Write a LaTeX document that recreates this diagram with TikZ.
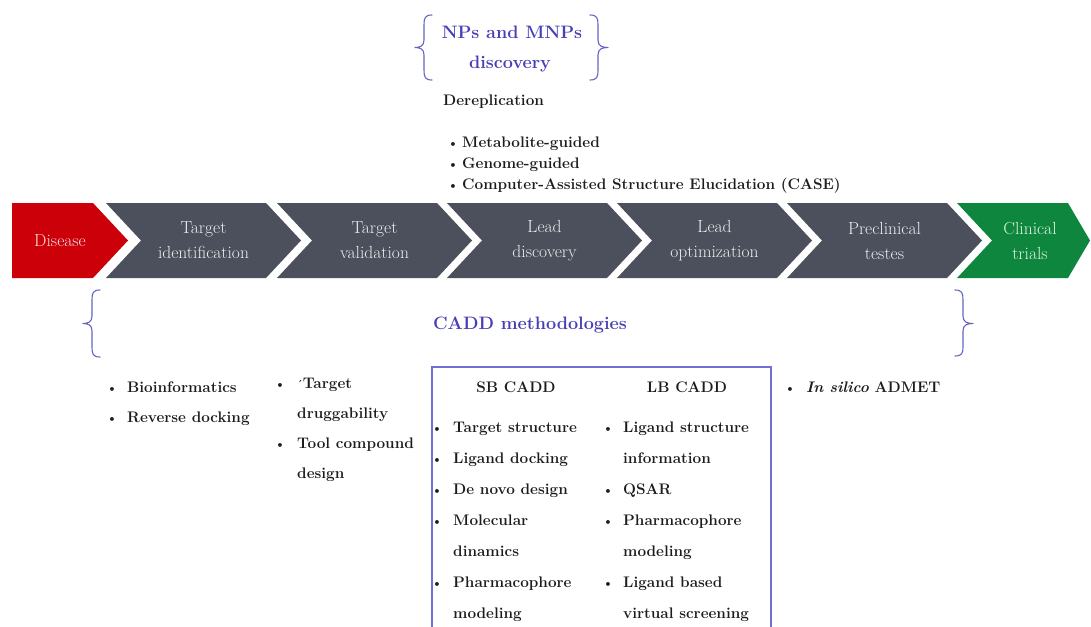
\documentclass[tikz,border=0pt]{standalone}
\usepackage{fontspec}
\definecolor{cred}{RGB}{204,0,8}
\definecolor{cgray}{RGB}{76,80,92}
\definecolor{cgreen}{RGB}{14,134,62}
\definecolor{cblue}{RGB}{72,62,182}
\definecolor{cbrace}{RGB}{100,100,200}
\definecolor{cbox}{RGB}{112,112,212}
\definecolor{ctxt}{RGB}{28,28,28}
\definecolor{cchev}{RGB}{238,238,240}
\definecolor{cdis}{RGB}{252,222,222}
\definecolor{cclin}{RGB}{222,246,226}
\tikzset{
  chevtext/.style={align=center, font=\fontsize{17.5}{25}\selectfont, text=cchev, inner sep=0pt},
  bodytext/.style={anchor=base west, font=\bfseries\fontsize{15.3}{18}\selectfont, text=ctxt, inner sep=0pt},
  bul/.style={anchor=base, font=\bfseries\fontsize{13}{14}\selectfont, text=ctxt, inner sep=0pt},
  headtext/.style={anchor=base, font=\bfseries\fontsize{15.3}{18}\selectfont, text=ctxt, inner sep=0pt},
  bluetext/.style={anchor=base, font=\bfseries\fontsize{18}{22}\selectfont, text=cblue, inner sep=0pt},
  bracestyle/.style={draw=cbrace, line width=1.1pt, line cap=round, line join=round},
  boxstyle/.style={draw=cbox, line width=1.3pt}
}
\begin{document}
\begin{tikzpicture}[x=1pt,y=-1pt]
\useasboundingbox (0,0) rectangle (1091,626);
\fill[white] (0,0) rectangle (1091,626);

% chevrons
\fill[cred] (12,203) -- (93,203) -- (128,240.5) -- (93,278) -- (12,278) -- cycle;
\foreach \L in {106,277,447,617,787}{
  \fill[cgray] (\L,203) -- ++(160,0) -- ++(35,37.5) -- ++(-35,37.5) -- ++(-160,0) -- ++(35,-37.5) -- cycle;
}
\fill[cgreen] (957,203) -- (1068,203) -- (1090,240.5) -- (1068,278) -- (957,278) -- (992,240.5) -- cycle;

\node[chevtext, text=cdis] (disease) at (60,241) {Disease};
\node[chevtext] (tid) at (203.5,240.5) {Target\\identification};
\node[chevtext] (tval) at (374.5,240.5) {Target\\validation};
\node[chevtext] (ldis) at (544.5,240.5) {Lead\\discovery};
\node[chevtext] (lopt) at (714.5,240.5) {Lead\\optimization};
\node[chevtext] (pre) at (884.5,240.5) {Preclinical\\testes};
\node[chevtext, text=cclin] (clin) at (1030,240.5) {Clinical\\trials};

% top braces and heading
\draw[bracestyle] (432,15) .. controls (425,15) and (424,18) .. (424,25) -- (424,40)
  .. controls (424,46) and (420,47.5) .. (415,47.5)
  .. controls (420,47.5) and (424,49) .. (424,55) -- (424,70)
  .. controls (424,77) and (425,80) .. (432,80);
\draw[bracestyle] (590,15) .. controls (597,15) and (598,18) .. (598,25) -- (598,40)
  .. controls (598,46) and (602,47.5) .. (608,47.5)
  .. controls (602,47.5) and (598,49) .. (598,55) -- (598,70)
  .. controls (598,77) and (597,80) .. (590,80);
\node[bluetext] (nps1) at (512,39) {NPs and MNPs};
\node[bluetext] (nps2) at (510,68) {discovery};

\node[bodytext] (derep) at (443,105) {Dereplication};
\node[bul] (b1) at (453,147) {\textbullet};
\node[bodytext] (met) at (462,147) {Metabolite-guided};
\node[bul] (b2) at (453,168) {\textbullet};
\node[bodytext] (gen) at (462,168) {Genome-guided};
\node[bul] (b3) at (453,189) {\textbullet};
\node[bodytext] (case) at (462,189) {Computer-Assisted Structure Elucidation (CASE)};

% bottom braces and heading
\draw[bracestyle] (100,290) .. controls (93,290) and (92,293) .. (92,300) -- (92,316)
  .. controls (92,322) and (88,323.5) .. (83,323.5)
  .. controls (88,323.5) and (92,325) .. (92,331) -- (92,347)
  .. controls (92,354) and (93,357) .. (100,357);
\draw[bracestyle] (955,290) .. controls (962,290) and (963,293) .. (963,300) -- (963,316)
  .. controls (963,322) and (967,323.5) .. (973,323.5)
  .. controls (967,323.5) and (963,325) .. (963,331) -- (963,347)
  .. controls (963,353) and (962,356) .. (955,356);
\node[bluetext] (cadd) at (530,329) {CADD methodologies};

% left columns
\node[bul] (lb1) at (112,392) {\textbullet};
\node[bodytext] (bio) at (127,392) {Bioinformatics};
\node[bul] (lb2) at (112,422) {\textbullet};
\node[bodytext] (rev) at (127,422) {Reverse docking};

\node[bul] (mb1) at (280,388) {\textbullet};
\node[bodytext] (tgt) at (297,388) {\raisebox{1pt}{\fontsize{10}{10}\selectfont ´}Target};
\node[bodytext] (drug) at (297,418) {druggability};
\node[bul] (mb2) at (280,448) {\textbullet};
\node[bodytext] (tool) at (297,448) {Tool compound};
\node[bodytext] (des) at (297,478) {design};

% CADD box
\draw[boxstyle] (432,640) -- (432,367) -- (771,367) -- (771,640);
\node[headtext] (sb) at (516,392) {SB CADD};
\node[headtext] (lb) at (687,392) {LB CADD};

\node[bul] (sb1) at (437,432) {\textbullet};
\node[bodytext] (s1) at (453,432) {Target structure};
\node[bul] (sb2) at (437,463) {\textbullet};
\node[bodytext] (s2) at (453,463) {Ligand docking};
\node[bul] (sb3) at (437,494) {\textbullet};
\node[bodytext] (s3) at (453,494) {De novo design};
\node[bul] (sb4) at (437,525) {\textbullet};
\node[bodytext] (s4) at (453,525) {Molecular};
\node[bodytext] (s4b) at (453,556) {dinamics};
\node[bul] (sb5) at (437,587) {\textbullet};
\node[bodytext] (s5) at (453,587) {Pharmacophore};
\node[bodytext] (s5b) at (453,618) {modeling};

\node[bul] (lbb1) at (608,432) {\textbullet};
\node[bodytext] (l1) at (623,432) {Ligand structure};
\node[bodytext] (l1b) at (623,463) {information};
\node[bul] (lbb2) at (608,494) {\textbullet};
\node[bodytext] (l2) at (623,494) {QSAR};
\node[bul] (lbb3) at (608,525) {\textbullet};
\node[bodytext] (l3) at (623,525) {Pharmacophore};
\node[bodytext] (l3b) at (623,556) {modeling};
\node[bul] (lbb4) at (608,587) {\textbullet};
\node[bodytext] (l4) at (623,587) {Ligand based};
\node[bodytext] (l4b) at (623,618) {virtual screening};

% right column
\node[bul] (rb1) at (790,392) {\textbullet};
\node[bodytext] (adm) at (806,392) {\textit{In silico} ADMET};
\end{tikzpicture}
\end{document}
